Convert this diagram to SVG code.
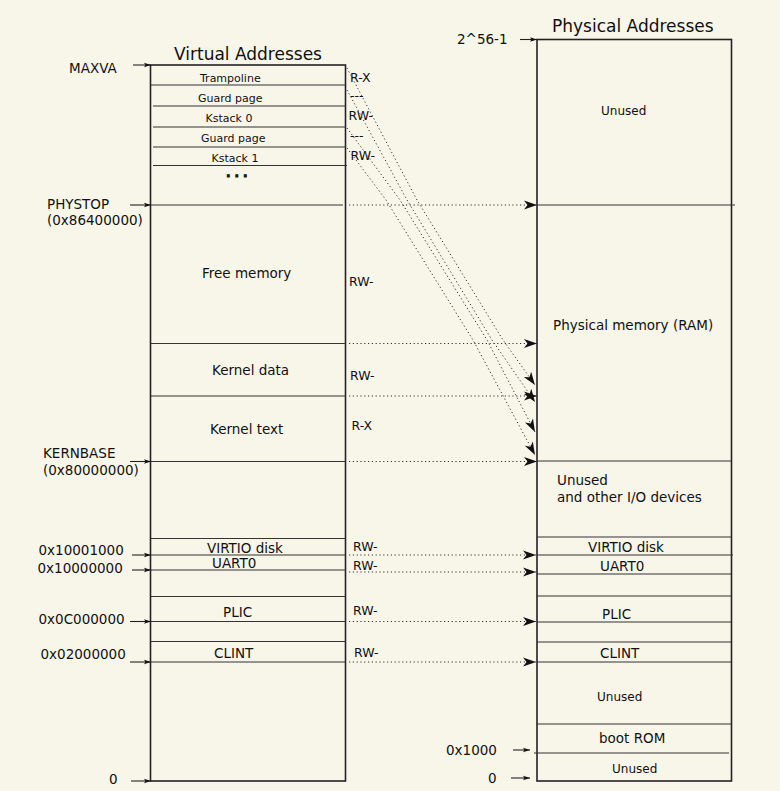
<svg xmlns="http://www.w3.org/2000/svg" width="780" height="791" viewBox="0 0 780 791">
<defs>
<marker id="big" markerUnits="userSpaceOnUse" markerWidth="14" markerHeight="10" refX="13" refY="4.5" orient="auto" overflow="visible">
<path d="M0,0 L13,4.5 L0,9 L3.5,4.5 Z" fill="#111"/>
</marker>
<marker id="small" markerUnits="userSpaceOnUse" markerWidth="8" markerHeight="6" refX="7" refY="2.2" orient="auto" overflow="visible">
<path d="M0,0 L7,2.2 L0,4.4 L1.5,2.2 Z" fill="#111"/>
</marker>
<style>
text{font-family:"DejaVu Sans","Liberation Sans",sans-serif;fill:#111}
.t{font-size:17px}
.s{font-size:11px}
.m{font-size:13.5px}
.u{font-size:12px}
.p{font-size:12.5px}
.box{fill:none;stroke:#222;stroke-width:1.6}
.ln{stroke:#333;stroke-width:1.2;fill:none}
.dot{stroke:#333;stroke-width:1;stroke-dasharray:1.2 2.6;fill:none}
.ptr{stroke:#222;stroke-width:1.1;fill:none}
</style>
</defs>
<rect width="780" height="791" fill="#f8f5e9"/>

<g id="virtual">
<text class="t" x="174" y="60">Virtual Addresses</text>
<rect class="box" x="150.5" y="65" width="195" height="716"/>
<line class="ln" x1="151" y1="85" x2="345.5" y2="85"/>
<line class="ln" x1="153" y1="106" x2="345.5" y2="106"/>
<line class="ln" x1="153" y1="127" x2="346" y2="127"/>
<line class="ln" x1="153" y1="147" x2="346" y2="147"/>
<line class="ln" x1="153" y1="165.5" x2="347" y2="165.5"/>
<line class="ln" x1="151" y1="205" x2="343" y2="205"/>
<line class="ln" x1="151" y1="343.5" x2="345.5" y2="343.5"/>
<line class="ln" x1="151" y1="396" x2="345.5" y2="396"/>
<line class="ln" x1="151" y1="461.5" x2="345.5" y2="461.5"/>
<line class="ln" x1="151" y1="538.5" x2="345.5" y2="538.5"/>
<line class="ln" x1="151" y1="555" x2="345.5" y2="555"/>
<line class="ln" x1="151" y1="570" x2="345.5" y2="570"/>
<line class="ln" x1="151" y1="596.5" x2="345.5" y2="596.5"/>
<line class="ln" x1="151" y1="621.5" x2="345.5" y2="621.5"/>
<line class="ln" x1="151" y1="641.5" x2="345.5" y2="641.5"/>
<line class="ln" x1="151" y1="662" x2="345.5" y2="662"/>
<text class="s" x="200" y="81.5">Trampoline</text>
<text class="s" x="198" y="101.5">Guard page</text>
<text class="s" x="205.5" y="121.5">Kstack 0</text>
<text class="s" x="201" y="142">Guard page</text>
<text class="s" x="211.5" y="162">Kstack 1</text>
<text x="226" y="176.5" style="font-size:12px;font-weight:bold;letter-spacing:4px;stroke:#111;stroke-width:0.8">...</text>
<text class="m" x="202" y="278">Free memory</text>
<text class="m" x="212" y="375">Kernel data</text>
<text class="m" x="210" y="434">Kernel text</text>
<text class="m" x="207" y="552.5">VIRTIO disk</text>
<text class="m" x="212" y="568">UART0</text>
<text class="m" x="223" y="616.5">PLIC</text>
<text class="m" x="214" y="657.5">CLINT</text>
</g>

<g id="physical">
<text class="t" x="552" y="32">Physical Addresses</text>
<rect class="box" x="537" y="39.5" width="194.5" height="741.5"/>
<line class="ln" x1="537" y1="205" x2="735" y2="205"/>
<line class="ln" x1="537" y1="461" x2="731" y2="461"/>
<line class="ln" x1="537" y1="537" x2="731" y2="537"/>
<line class="ln" x1="537" y1="555" x2="733" y2="555"/>
<line class="ln" x1="537" y1="574" x2="731" y2="574"/>
<line class="ln" x1="537" y1="596" x2="731" y2="596"/>
<line class="ln" x1="537" y1="622" x2="731" y2="622"/>
<line class="ln" x1="537" y1="642" x2="731" y2="642"/>
<line class="ln" x1="537" y1="662" x2="731" y2="662"/>
<line class="ln" x1="537" y1="724" x2="731" y2="724"/>
<line class="ln" x1="534" y1="753" x2="729" y2="753"/>
<text class="u" x="601" y="115">Unused</text>
<text class="m" x="553" y="330">Physical memory (RAM)</text>
<text class="m" x="557" y="485">Unused</text>
<text class="m" x="557" y="502">and other I/O devices</text>
<text class="m" x="588" y="552">VIRTIO disk</text>
<text class="m" x="600" y="571">UART0</text>
<text class="m" x="602" y="618.5">PLIC</text>
<text class="m" x="600" y="658">CLINT</text>
<text class="u" x="597" y="700.5">Unused</text>
<text class="m" x="599" y="743">boot ROM</text>
<text class="u" x="612" y="773">Unused</text>
</g>

<g id="address-labels">
<text class="m" x="69" y="73">MAXVA</text>
<text class="m" x="47" y="209">PHYSTOP</text>
<text class="m" x="47" y="225">(0x86400000)</text>
<text class="m" x="43" y="458">KERNBASE</text>
<text class="m" x="43" y="475">(0x80000000)</text>
<text class="m" x="38.5" y="555">0x10001000</text>
<text class="m" x="37.5" y="573">0x10000000</text>
<text class="m" x="38.5" y="624">0x0C000000</text>
<text class="m" x="40.5" y="659">0x02000000</text>
<text class="m" x="109" y="784">0</text>
<text class="m" x="457" y="43.5">2^56-1</text>
<text class="m" x="446" y="755">0x1000</text>
<text class="m" x="488" y="783">0</text>
</g>

<g id="permissions">
<text class="p" x="350" y="81.5">R-X</text>
<text class="p" x="350" y="99.5">---</text>
<text class="p" x="348.5" y="120">RW-</text>
<text class="p" x="350" y="140">---</text>
<text class="p" x="350.5" y="159.5">RW-</text>
<text class="p" x="349" y="286">RW-</text>
<text class="p" x="350" y="380">RW-</text>
<text class="p" x="351.5" y="430">R-X</text>
<text class="p" x="353" y="551">RW-</text>
<text class="p" x="353" y="570">RW-</text>
<text class="p" x="353" y="614.5">RW-</text>
<text class="p" x="354" y="657">RW-</text>
</g>

<g id="connectors">
<line class="ptr" x1="133" y1="65" x2="151" y2="65" marker-end="url(#small)"/>
<line class="ptr" x1="130" y1="205" x2="151" y2="205" marker-end="url(#small)"/>
<line class="ptr" x1="130" y1="461.5" x2="151" y2="461.5" marker-end="url(#small)"/>
<line class="ptr" x1="132" y1="555" x2="151" y2="555" marker-end="url(#small)"/>
<line class="ptr" x1="132" y1="570" x2="151" y2="570" marker-end="url(#small)"/>
<line class="ptr" x1="130" y1="621.5" x2="151" y2="621.5" marker-end="url(#small)"/>
<line class="ptr" x1="130" y1="662" x2="151" y2="662" marker-end="url(#small)"/>
<line class="ptr" x1="131" y1="781" x2="151" y2="781" marker-end="url(#small)"/>
<line class="ptr" x1="520" y1="39.5" x2="537" y2="39.5" marker-end="url(#small)"/>
<line class="ptr" x1="513" y1="750" x2="530" y2="750" marker-end="url(#small)"/>
<line class="ptr" x1="511" y1="778" x2="530" y2="778" marker-end="url(#small)"/>

<line class="dot" x1="349" y1="205" x2="537" y2="205" marker-end="url(#big)"/>
<line class="dot" x1="349" y1="343.5" x2="537" y2="343.5" marker-end="url(#big)"/>
<line class="dot" x1="349" y1="396" x2="537" y2="396" marker-end="url(#big)"/>
<line class="dot" x1="349" y1="461.5" x2="537" y2="461.5" marker-end="url(#big)"/>
<line class="dot" x1="349" y1="555" x2="536" y2="555" marker-end="url(#big)"/>
<line class="dot" x1="349" y1="572" x2="536" y2="572" marker-end="url(#big)"/>
<line class="dot" x1="349" y1="621.5" x2="536" y2="621.5" marker-end="url(#big)"/>
<line class="dot" x1="349" y1="662" x2="536" y2="662" marker-end="url(#big)"/>

<path class="dot" d="M347,68 L417,200 L503,340 L535,385" marker-end="url(#big)"/>
<path class="dot" d="M347,90 L407,200 L492,340 L535,402" marker-end="url(#big)"/>
<path class="dot" d="M347,128 L400,200 L487,340 L535,432" marker-end="url(#big)"/>
<path class="dot" d="M347,148 L386,200 L473,340 L535,455" marker-end="url(#big)"/>
</g>
</svg>
